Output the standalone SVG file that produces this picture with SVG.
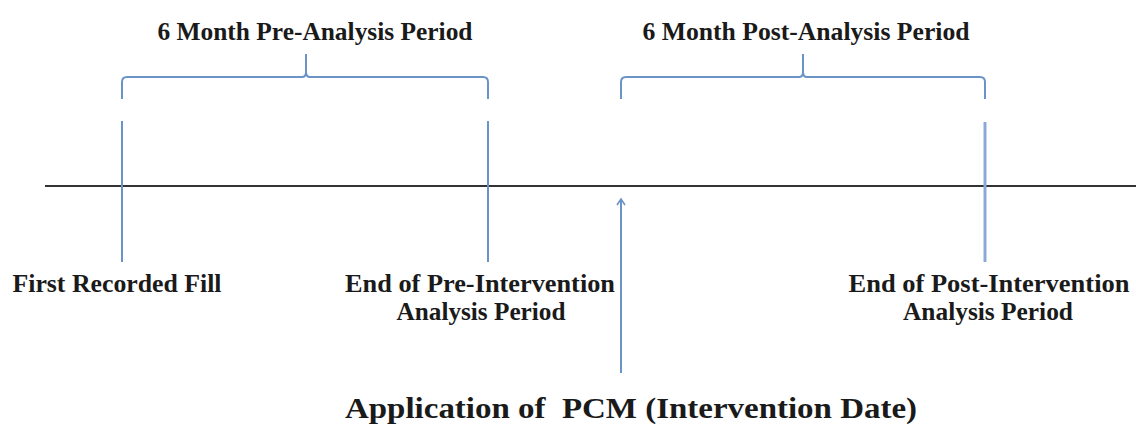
<svg xmlns="http://www.w3.org/2000/svg" width="1136" height="424" viewBox="0 0 1136 424">
  <style>
    .label { font-family: "Liberation Serif", serif; font-weight: bold; fill: #1a1a1a; white-space: pre; }
    .blue { stroke: #6a93c8; stroke-width: 2; fill: none; }
    .axis { stroke: #333333; stroke-width: 2; }
  </style>
  <defs>
    <marker id="chevron" viewBox="0 0 10 10" refX="9" refY="5" markerWidth="10" markerHeight="10" markerUnits="userSpaceOnUse" orient="auto">
      <path d="M3,1 L9,5 L3,9" fill="none" stroke="#6a93c8" stroke-width="1.6"/>
    </marker>
  </defs>
  <rect width="1136" height="424" fill="#ffffff"/>

  <!-- timeline and markers -->
  <g id="connectors">
    <line class="axis" x1="45" y1="186" x2="1136" y2="186"/>
    <line class="blue" x1="122" y1="121" x2="122" y2="262"/>
    <line class="blue" x1="488" y1="121" x2="488" y2="262"/>
    <line class="blue" x1="985" y1="122" x2="985" y2="262" style="stroke:#8aaad6;stroke-width:3"/>
    <line class="blue" x1="621" y1="373" x2="621" y2="199" marker-end="url(#chevron)"/>
    <!-- braces over the two analysis periods -->
    <path class="blue" d="M122,99 L122,82 Q122,77 127,77 L302,77 Q306,77 306,72 L306,54 M306,72 Q306,77 310,77 L483,77 Q488,77 488,82 L488,99"/>
    <path class="blue" d="M621,99 L621,82 Q621,77 626,77 L799,77 Q803,77 803,72 L803,54 M803,72 Q803,77 807,77 L980,77 Q985,77 985,82 L985,99"/>
  </g>

  <g id="pre-period">
    <text class="label" font-size="25" x="315" y="40" text-anchor="middle" textLength="315" lengthAdjust="spacingAndGlyphs">6 Month Pre-Analysis Period</text>
  </g>
  <g id="post-period">
    <text class="label" font-size="25" x="806" y="40" text-anchor="middle" textLength="327" lengthAdjust="spacingAndGlyphs">6 Month Post-Analysis Period</text>
  </g>
  <g id="first-fill">
    <text class="label" font-size="25" x="117" y="292" text-anchor="middle" textLength="209" lengthAdjust="spacingAndGlyphs">First Recorded Fill</text>
  </g>
  <g id="end-pre">
    <text class="label" font-size="25" x="480" y="292" text-anchor="middle" textLength="270" lengthAdjust="spacingAndGlyphs">End of Pre-Intervention</text>
    <text class="label" font-size="25" x="481" y="320" text-anchor="middle" textLength="169" lengthAdjust="spacingAndGlyphs">Analysis Period</text>
  </g>
  <g id="end-post">
    <text class="label" font-size="25" x="989" y="292" text-anchor="middle" textLength="281" lengthAdjust="spacingAndGlyphs">End of Post-Intervention</text>
    <text class="label" font-size="25" x="988" y="320" text-anchor="middle" textLength="170" lengthAdjust="spacingAndGlyphs">Analysis Period</text>
  </g>
  <g id="intervention">
    <text class="label" font-size="30" x="631" y="418" text-anchor="middle" textLength="572" lengthAdjust="spacingAndGlyphs">Application of  PCM (Intervention Date)</text>
  </g>
</svg>
